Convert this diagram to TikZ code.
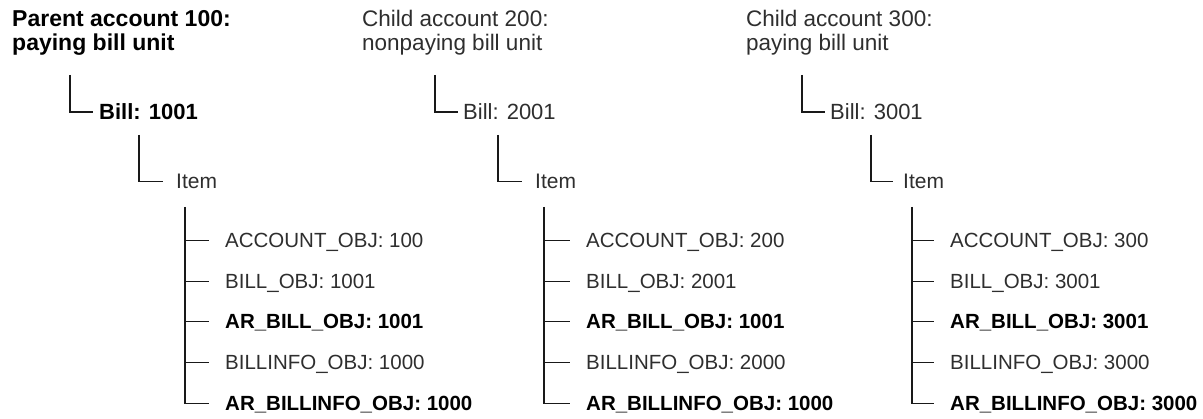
\documentclass[tikz,border=0pt]{standalone}
\usepackage{fontspec}
\setmainfont{Liberation Sans}
\begin{document}
\begin{tikzpicture}[x=1pt,y=-1pt,
  hdr/.style={anchor=base west, inner sep=0pt, text=black!82, font=\fontsize{22.5}{27}\selectfont},
  hdrb/.style={hdr, text=black, font=\fontsize{23}{27}\selectfont\bfseries},
  billnode/.style={anchor=base west, inner sep=0pt, text=black!82, text height=15.8pt, text depth=0pt, font=\fontsize{22}{26}\selectfont},
  billb/.style={billnode, text=black, font=\fontsize{22}{26}\selectfont\bfseries},
  itemnode/.style={anchor=base west, inner sep=0pt, text=black!82, text height=15pt, text depth=0pt, font=\fontsize{21}{25}\selectfont},
  leaf/.style={anchor=base west, inner sep=0pt, text=black!82, text height=14.7pt, text depth=0pt, font=\fontsize{20.5}{24}\selectfont},
  leafb/.style={leaf, text=black, font=\fontsize{20.5}{24}\selectfont\bfseries},
  link/.style={line width=1.2pt, black!90}]
\useasboundingbox (0,0) rectangle (1203,419);

% ---------- account 100 ----------
\node[hdrb] (h1a) at (12,27) {Parent account 100:};
\node[hdrb] (h1b) at (12,51) {paying bill unit};
\node[billb] (bill1) at (99,120) {Bill: 1001};
\node[itemnode] (item1) at (176,189) {Item};
\node[leaf]  (l1a) at (225,248) {ACCOUNT\_OBJ: 100};
\node[leaf]  (l1b) at (225,289) {BILL\_OBJ: 1001};
\node[leafb] (l1c) at (225,329) {AR\_BILL\_OBJ: 1001};
\node[leaf]  (l1d) at (225,370) {BILLINFO\_OBJ: 1000};
\node[leafb] (l1e) at (225,411) {AR\_BILLINFO\_OBJ: 1000};
\coordinate (t1top) at (70,75);
\coordinate (t1mid) at (139,135);
\coordinate (t1trunk) at (185,207);
\draw[link] (t1top) |- ([xshift=-6pt]bill1.west);
\draw[link] (t1mid) |- ([xshift=-13pt]item1.west);
\draw[link] (t1trunk) |- ([xshift=-16pt]l1e.west);
\foreach \n in {l1a,l1b,l1c,l1d}
  \draw[link] (t1trunk |- \n.west) -- ([xshift=-16pt]\n.west);

% ---------- account 200 ----------
\node[hdr] (h2a) at (362,27) {Child account 200:};
\node[hdr] (h2b) at (362,51) {nonpaying bill unit};
\node[billnode] (bill2) at (463,120) {Bill: 2001};
\node[itemnode] (item2) at (535,189) {Item};
\node[leaf]  (l2a) at (586,248) {ACCOUNT\_OBJ: 200};
\node[leaf]  (l2b) at (586,289) {BILL\_OBJ: 2001};
\node[leafb] (l2c) at (586,329) {AR\_BILL\_OBJ: 1001};
\node[leaf]  (l2d) at (586,370) {BILLINFO\_OBJ: 2000};
\node[leafb] (l2e) at (586,411) {AR\_BILLINFO\_OBJ: 1000};
\coordinate (t2top) at (435,75);
\coordinate (t2mid) at (498,135);
\coordinate (t2trunk) at (544,207);
\draw[link] (t2top) |- ([xshift=-5pt]bill2.west);
\draw[link] (t2mid) |- ([xshift=-13pt]item2.west);
\draw[link] (t2trunk) |- ([xshift=-16pt]l2e.west);
\foreach \n in {l2a,l2b,l2c,l2d}
  \draw[link] (t2trunk |- \n.west) -- ([xshift=-16pt]\n.west);

% ---------- account 300 ----------
\node[hdr] (h3a) at (746,27) {Child account 300:};
\node[hdr] (h3b) at (746,51) {paying bill unit};
\node[billnode] (bill3) at (830,120) {Bill: 3001};
\node[itemnode] (item3) at (903,189) {Item};
\node[leaf]  (l3a) at (950,248) {ACCOUNT\_OBJ: 300};
\node[leaf]  (l3b) at (950,289) {BILL\_OBJ: 3001};
\node[leafb] (l3c) at (950,329) {AR\_BILL\_OBJ: 3001};
\node[leaf]  (l3d) at (950,370) {BILLINFO\_OBJ: 3000};
\node[leafb] (l3e) at (950,411) {AR\_BILLINFO\_OBJ: 3000};
\coordinate (t3top) at (802,75);
\coordinate (t3mid) at (871,135);
\coordinate (t3trunk) at (912,207);
\draw[link] (t3top) |- ([xshift=-5pt]bill3.west);
\draw[link] (t3mid) |- ([xshift=-10pt]item3.west);
\draw[link] (t3trunk) |- ([xshift=-16pt]l3e.west);
\foreach \n in {l3a,l3b,l3c,l3d}
  \draw[link] (t3trunk |- \n.west) -- ([xshift=-16pt]\n.west);
\end{tikzpicture}
\end{document}
